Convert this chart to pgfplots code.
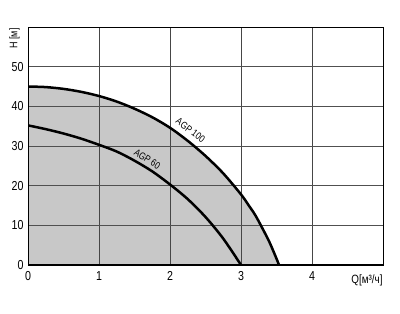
\documentclass[border=0pt]{standalone}
\usepackage{fontspec}
\setmainfont{Liberation Sans}[FakeStretch=0.82]
\usepackage{pgfplots}
\pgfplotsset{compat=1.18}
\definecolor{fillgray}{RGB}{200,200,200}
\definecolor{vgrid}{RGB}{70,70,70}
\definecolor{hgridd}{RGB}{80,80,80}
\definecolor{hgridl}{RGB}{165,165,165}
\pgfplotstableread{
Q H
0 45
0.25 44.85
0.5 44.4
0.75 43.65
1 42.6
1.25 41.2
1.5 39.4
1.75 37.25
2 34.6
2.25 31.3
2.5 27.5
2.75 23.1
3 17.8
3.1 15.25
3.2 12.6
3.3 9.3
3.4 5.8
3.5 1.6
3.535 0
}\agphundred
\pgfplotstableread{
Q H
0 35.2
0.25 34.25
0.5 33.15
0.75 31.85
1 30.3
1.25 28.6
1.5 26.3
1.75 23.6
2 20.3
2.25 16.6
2.5 12.1
2.75 6.65
3 0
}\agpsixty
\begin{document}
\begin{tikzpicture}
\begin{axis}[
  set layers=standard,
  at={(28bp,49bp)}, anchor=south west,
  scale only axis, width=355bp, height=238bp,
  xmin=0, xmax=5, ymin=0, ymax=60,
  xtick={0,1,2,3,4}, ytick={0,20,40},
  extra y ticks={10,30,50},
  extra y tick style={grid style={hgridl, line width=1bp}},
  grid=major,
  x grid style={vgrid, line width=0.8bp},
  y grid style={hgridd, line width=0.8bp},
  major tick length=0pt,
  axis line style={black, line width=0.8bp},
  /pgf/number format/assume math mode=true,
  tick label style={font=\fontsize{13bp}{15bp}\selectfont},
  xticklabel style={yshift=-3bp},
  yticklabel style={xshift=-1bp},
]
\addplot[fill=fillgray, draw=none, smooth, on layer=axis background] table[x=Q,y=H] {\agphundred} \closedcycle;
\addplot[black, line width=2.5bp, smooth] table[x=Q,y=H] {\agphundred};
\addplot[black, line width=2.5bp, smooth] table[x=Q,y=H] {\agpsixty};
\draw[black, line width=2bp] (rel axis cs:0,1) -- (rel axis cs:0,0) -- (rel axis cs:1,0);
\node[rotate=-37, font=\fontsize{10bp}{12bp}\selectfont] at (axis cs:2.29,34.0) {AGP 100};
\node[rotate=-33, font=\fontsize{10bp}{12bp}\selectfont] at (axis cs:1.68,26.7) {AGP 60};
\end{axis}
\node[rotate=90, font=\fontsize{11bp}{13bp}\selectfont] at (14.5bp,275.5bp) {H [м]};
\node[font=\fontsize{12bp}{14bp}\selectfont] at (367bp,34bp) {Q[м³/ч]};
\pgfresetboundingbox
\path[use as bounding box] (0,0) rectangle (400bp,314bp);
\end{tikzpicture}
\end{document}
